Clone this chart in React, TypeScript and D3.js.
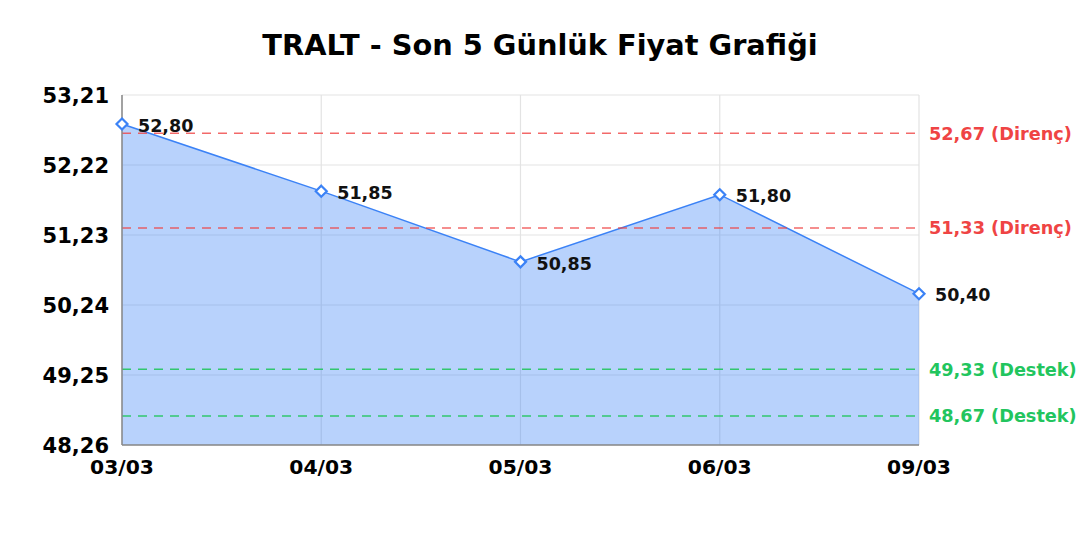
import React from "react";
import * as d3 from "d3";

const title = "TRALT - Son 5 Günlük Fiyat Grafiği";
const dates = ["03/03", "04/03", "05/03", "06/03", "09/03"];
const prices = [52.8, 51.85, 50.85, 51.8, 50.4];
const yTicks = [48.26, 49.25, 50.24, 51.23, 52.22, 53.21];
const resistance = [52.67, 51.33];
const support = [49.33, 48.67];

const W = 1080;
const H = 540;
const M = { left: 122, right: 919, top: 95, bottom: 445 };
const FONT = "'DejaVu Sans', sans-serif";
const fmt = (v: number) => v.toFixed(2).replace(".", ",");

export default function App() {
  const x = d3.scalePoint<string>().domain(dates).range([M.left, M.right]);
  const y = d3.scaleLinear().domain([48.26, 53.21]).range([M.bottom, M.top]);
  const pts = dates.map((d, i) => ({ d, v: prices[i] }));
  const area = d3
    .area<{ d: string; v: number }>()
    .x((p) => x(p.d)!)
    .y0(M.bottom)
    .y1((p) => y(p.v));
  const line = d3
    .line<{ d: string; v: number }>()
    .x((p) => x(p.d)!)
    .y((p) => y(p.v));
  const diamond = (cx: number, cy: number, r: number) =>
    `M${cx},${cy - r}L${cx + r},${cy}L${cx},${cy + r}L${cx - r},${cy}Z`;

  return (
    <svg width={W} height={H} style={{ position: "absolute", left: 0, top: 0, background: "#fff" }} fontFamily={FONT}>
      <text x={540} y={55} textAnchor="middle" fontSize={28.8} fontWeight="bold" fill="#000">
        {title}
      </text>
      {/* grid */}
      {yTicks.map((t) => (
        <line key={t} x1={M.left} x2={M.right} y1={y(t)} y2={y(t)} stroke="#e3e3e3" strokeWidth={1.2} />
      ))}
      {dates.map((d) => (
        <line key={d} x1={x(d)} x2={x(d)} y1={M.top} y2={M.bottom} stroke="#e3e3e3" strokeWidth={1.2} />
      ))}
      {/* area */}
      <path d={area(pts)!} fill="rgba(59,130,246,0.36)" />
      <path d={line(pts)!} fill="none" stroke="#3b82f6" strokeWidth={1.5} />
      {/* reference lines */}
      {resistance.map((r) => (
        <g key={"r" + r}>
          <line x1={M.left} x2={M.right} y1={y(r)} y2={y(r)} stroke="#ef4444" strokeOpacity={0.8} strokeWidth={1.5} strokeDasharray="9,7" />
          <text x={M.right + 10} y={y(r)} dy="0.36em" fontSize={17.7} fontWeight="bold" fill="#ef4444">
            {fmt(r)} (Direnç)
          </text>
        </g>
      ))}
      {support.map((s) => (
        <g key={"s" + s}>
          <line x1={M.left} x2={M.right} y1={y(s)} y2={y(s)} stroke="#22c55e" strokeOpacity={0.9} strokeWidth={1.5} strokeDasharray="9,7" />
          <text x={M.right + 10} y={y(s)} dy="0.36em" fontSize={17.7} fontWeight="bold" fill="#22c55e">
            {fmt(s)} (Destek)
          </text>
        </g>
      ))}
      {/* axes */}
      <line x1={M.left} x2={M.left} y1={M.top} y2={M.bottom} stroke="#888" strokeWidth={1.5} />
      <line x1={M.left} x2={M.right} y1={M.bottom} y2={M.bottom} stroke="#888" strokeWidth={1.5} />
      {yTicks.map((t) => (
        <text key={t} x={M.left - 13} y={y(t)} dy="0.36em" textAnchor="end" fontSize={21} fontWeight="bold" fill="#000">
          {fmt(t)}
        </text>
      ))}
      {dates.map((d) => (
        <text key={d} x={x(d)} y={M.bottom + 29} textAnchor="middle" fontSize={20.3} fontWeight="bold" fill="#000">
          {d}
        </text>
      ))}
      {/* markers and labels */}
      {pts.map((p) => (
        <g key={p.d}>
          <path d={diamond(x(p.d)!, y(p.v), 5.5)} fill="#fff" stroke="#3b82f6" strokeWidth={2.2} />
          <text x={x(p.d)! + 16} y={y(p.v) + 1.5} dy="0.36em" fontSize={17.5} fontWeight="bold" fill="#111">
            {fmt(p.v)}
          </text>
        </g>
      ))}
    </svg>
  );
}
